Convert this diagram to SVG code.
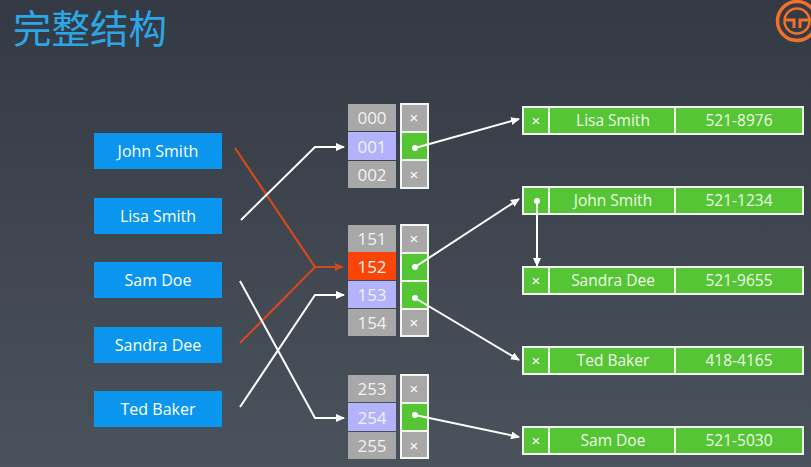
<svg xmlns="http://www.w3.org/2000/svg" width="811" height="467" viewBox="0 0 811 467">
<style>
text{font-family:"Liberation Sans","Noto Sans",sans-serif;text-anchor:middle;fill:#fff}
.k{font-size:16px;font-family:"Open Sans","Liberation Sans",sans-serif}
.key{fill:#0a95ee}
.g{fill:#a8a8a8}.b{fill:#b3b3fb}.r{fill:#fb4408}
.n{font-size:17px;font-family:"Open Sans","Liberation Sans",sans-serif;fill:#f2f2f2}
.col{fill:none;stroke:#f4f6f4;stroke-width:2}
.p{fill:#a8a8a8}.pg{fill:#55c535}
.e{fill:#55c535;stroke:#f2f7ee;stroke-width:2}
.d{stroke:#f2f7ee;stroke-width:2}
.x{font-size:15px}
.t{font-size:15.5px;font-family:"Open Sans","Liberation Sans",sans-serif;fill:#eef8e8}
.w{fill:none;stroke:#fff;stroke-width:2}
.o{fill:none;stroke:#d2491c;stroke-width:2.2}
.dot{fill:#fff}
</style>
<defs>
<linearGradient id="bg" x1="0" y1="0" x2="0" y2="1"><stop offset="0" stop-color="#343a44"/><stop offset="1" stop-color="#4a525c"/></linearGradient>
<marker id="aw" markerWidth="9" markerHeight="8" refX="8" refY="4" orient="auto" markerUnits="userSpaceOnUse"><path d="M0 0L9 4L0 8z" fill="#fff"/></marker>
<marker id="ao" markerWidth="9" markerHeight="8" refX="8" refY="4" orient="auto" markerUnits="userSpaceOnUse"><path d="M0 0L9 4L0 8z" fill="#d2491c"/></marker>
</defs>
<rect width="811" height="467" fill="url(#bg)"/>
<text id="title" x="90" y="43" style="font-family:'Noto Sans CJK SC',sans-serif;font-size:38.5px;fill:#2ba6e6">完整结构</text>
<g id="logo" fill="none" stroke="#f0702c">
<circle cx="797" cy="21" r="19.5" stroke-width="3.5"/>
<circle cx="797" cy="21" r="12.5" stroke-width="2.5"/>
<path d="M784 20H794V28M811 20H800V28" stroke-width="3"/>
</g>
<g id="keys">
<g id="key-john"><rect class="key" x="94" y="133" width="128" height="36"/><text class="k" x="158" y="157">John Smith</text></g>
<g id="key-lisa"><rect class="key" x="94" y="198" width="128" height="36"/><text class="k" x="158" y="222">Lisa Smith</text></g>
<g id="key-sam"><rect class="key" x="94" y="262" width="128" height="36"/><text class="k" x="158" y="286">Sam Doe</text></g>
<g id="key-sandra"><rect class="key" x="94" y="327" width="128" height="36"/><text class="k" x="158" y="351">Sandra Dee</text></g>
<g id="key-ted"><rect class="key" x="94" y="391" width="128" height="36"/><text class="k" x="158" y="415">Ted Baker</text></g>
</g>
<g id="buckets-0">
<g id="b000"><rect class="g" x="348" y="104" width="48" height="27"/><text class="n" x="372" y="124">000</text></g>
<g id="b001"><rect class="b" x="348" y="132" width="48" height="28"/><text class="n" x="372" y="153">001</text></g>
<g id="b002"><rect class="g" x="348" y="161" width="48" height="27"/><text class="n" x="372" y="181">002</text></g>
<g id="p0"><rect class="p" x="401" y="104" width="27" height="84"/><rect class="pg" x="401" y="132" width="27" height="28"/><rect class="col" x="401" y="104" width="27" height="84"/><path class="d" d="M401 132H428M401 160H428"/><text class="x" x="414" y="123">×</text><text class="x" x="414" y="180">×</text></g>
</g>
<g id="buckets-1">
<g id="b151"><rect class="g" x="348" y="225" width="48" height="27"/><text class="n" x="372" y="245">151</text></g>
<g id="b152"><rect class="r" x="348" y="252" width="48" height="28"/><text class="n" x="372" y="273">152</text></g>
<g id="b153"><rect class="b" x="348" y="281" width="48" height="27"/><text class="n" x="372" y="301">153</text></g>
<g id="b154"><rect class="g" x="348" y="309" width="48" height="27"/><text class="n" x="372" y="329">154</text></g>
<g id="p1"><rect class="p" x="401" y="225" width="27" height="111"/><rect class="pg" x="401" y="253" width="27" height="55"/><rect class="col" x="401" y="225" width="27" height="111"/><path class="d" d="M401 253H428M401 281H428M401 309H428"/><text class="x" x="414" y="244">×</text><text class="x" x="414" y="328">×</text></g>
</g>
<g id="buckets-2">
<g id="b253"><rect class="g" x="348" y="375" width="48" height="27"/><text class="n" x="372" y="395">253</text></g>
<g id="b254"><rect class="b" x="348" y="403" width="48" height="28"/><text class="n" x="372" y="424">254</text></g>
<g id="b255"><rect class="g" x="348" y="432" width="48" height="27"/><text class="n" x="372" y="452">255</text></g>
<g id="p2"><rect class="p" x="401" y="375" width="27" height="83"/><rect class="pg" x="401" y="403" width="27" height="28"/><rect class="col" x="401" y="375" width="27" height="83"/><path class="d" d="M401 403H428M401 431H428"/><text class="x" x="414" y="394">×</text><text class="x" x="414" y="451">×</text></g>
</g>
<g id="entries">
<g id="e-lisa"><rect class="e" x="523" y="107" width="280" height="27"/><path class="d" d="M549 107V134M675 107V134"/><text class="x" x="536" y="126">×</text><text class="t" x="613" y="126">Lisa Smith</text><text class="t" x="739" y="126">521-8976</text></g>
<g id="e-john"><rect class="e" x="523" y="187" width="280" height="27"/><path class="d" d="M549 187V214M675 187V214"/><text class="t" x="613" y="206">John Smith</text><text class="t" x="739" y="206">521-1234</text></g>
<g id="e-sandra"><rect class="e" x="523" y="267" width="280" height="27"/><path class="d" d="M549 267V294M675 267V294"/><text class="x" x="536" y="286">×</text><text class="t" x="613" y="286">Sandra Dee</text><text class="t" x="739" y="286">521-9655</text></g>
<g id="e-ted"><rect class="e" x="523" y="347" width="280" height="27"/><path class="d" d="M549 347V374M675 347V374"/><text class="x" x="536" y="366">×</text><text class="t" x="613" y="366">Ted Baker</text><text class="t" x="739" y="366">418-4165</text></g>
<g id="e-sam"><rect class="e" x="523" y="427" width="280" height="27"/><path class="d" d="M549 427V454M675 427V454"/><text class="x" x="536" y="446">×</text><text class="t" x="613" y="446">Sam Doe</text><text class="t" x="739" y="446">521-5030</text></g>
</g>
<g id="connectors">
<path class="o" d="M235 148L315 267H343" marker-end="url(#ao)"/>
<path class="o" d="M240 343L315 267"/>
<path class="w" d="M241 220L315 147H344" marker-end="url(#aw)"/>
<path class="w" d="M240 281L315 418H344" marker-end="url(#aw)"/>
<path class="w" d="M240 407L315 295H344" marker-end="url(#aw)"/>
<path class="w" d="M415 148L519 119" marker-end="url(#aw)"/>
<path class="w" d="M415 267L519 199" marker-end="url(#aw)"/>
<path class="w" d="M415 298L519 360" marker-end="url(#aw)"/>
<path class="w" d="M415 415L519 437" marker-end="url(#aw)"/>
<path class="w" d="M537 201V266" marker-end="url(#aw)"/>
<circle class="dot" cx="415" cy="148" r="3"/><circle class="dot" cx="415" cy="267" r="3"/><circle class="dot" cx="415" cy="298" r="3"/><circle class="dot" cx="415" cy="415" r="3"/><circle class="dot" cx="537" cy="201" r="3"/>
</g>
</svg>
